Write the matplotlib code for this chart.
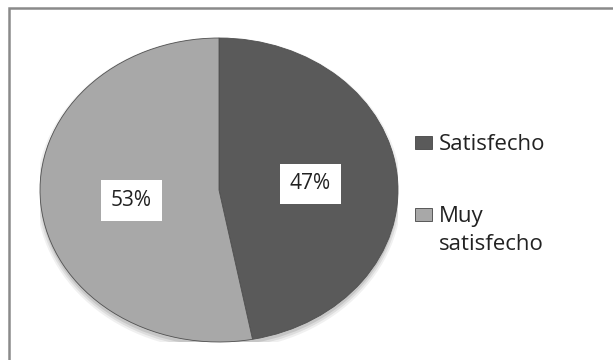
import matplotlib.pyplot as plt
from matplotlib.patches import Rectangle, Ellipse

# ---- Data ---- #
categories = ['Satisfecho', 'Muy\nsatisfecho']
shares = [47, 53]
slice_colors = ['#5a5a5a', '#a8a8a8']

plt.rcParams['font.family'] = ['Open Sans', 'DejaVu Sans']

W, H = 613, 360
fig = plt.figure(figsize=(W / 100, H / 100), dpi=100)


def px(x, y):
    """pixel position (from top-left) -> figure fraction"""
    return x / W, 1 - y / H


# grey frame around the chart area (runs off the right and bottom edges)
fig.patches.append(Rectangle(px(9, 380), 1.2, (380 - 8) / H,
                             transform=fig.transFigure, fill=False,
                             edgecolor='#8a8a8a', linewidth=1.8))

# pie is stretched into an ellipse, so the axes box sets its shape
ax = fig.add_axes([40 / W, 18 / H, 358 / W, 304 / H])

# soft drop shadow under the pie
for i, a in enumerate([0.06, 0.08, 0.10]):
    ax.add_patch(Ellipse((0, -0.025), 2.0 + 0.02 * (2 - i), 2.0 + 0.03 * (2 - i),
                         facecolor='#000000', edgecolor='none', alpha=a, zorder=0))

wedges, texts, autotexts = ax.pie(
    shares, colors=slice_colors, startangle=90, counterclock=False,
    autopct='%1.0f%%', pctdistance=0.55,
    wedgeprops=dict(edgecolor='#505050', linewidth=0.6, zorder=1),
    textprops=dict(fontsize=15, color='#222222'))

ax.set_aspect('auto')
ax.set_xlim(-1, 1)
ax.set_ylim(-1, 1)

for t in autotexts:
    t.set_bbox(dict(facecolor='white', edgecolor='none', pad=7))

# place the value labels where they sit on the slices
autotexts[0].set_position((0.51, 0.04))
autotexts[1].set_position((-0.49, -0.07))

# legend drawn by hand so the swatch lines up with the first text line
baselines = [150, 222]
line_step = 28
for label, color, base in zip(categories, slice_colors, baselines):
    fig.patches.append(Rectangle(px(415, base - 1), 17 / W, 13 / H,
                                 transform=fig.transFigure, facecolor=color,
                                 edgecolor='#444444', linewidth=0.6))
    for k, line in enumerate(label.split('\n')):
        fig.text(*px(439, base + k * line_step), line, fontsize=16,
                 color='#222222', ha='left', va='baseline')

fig.savefig('out.png', dpi=100)
